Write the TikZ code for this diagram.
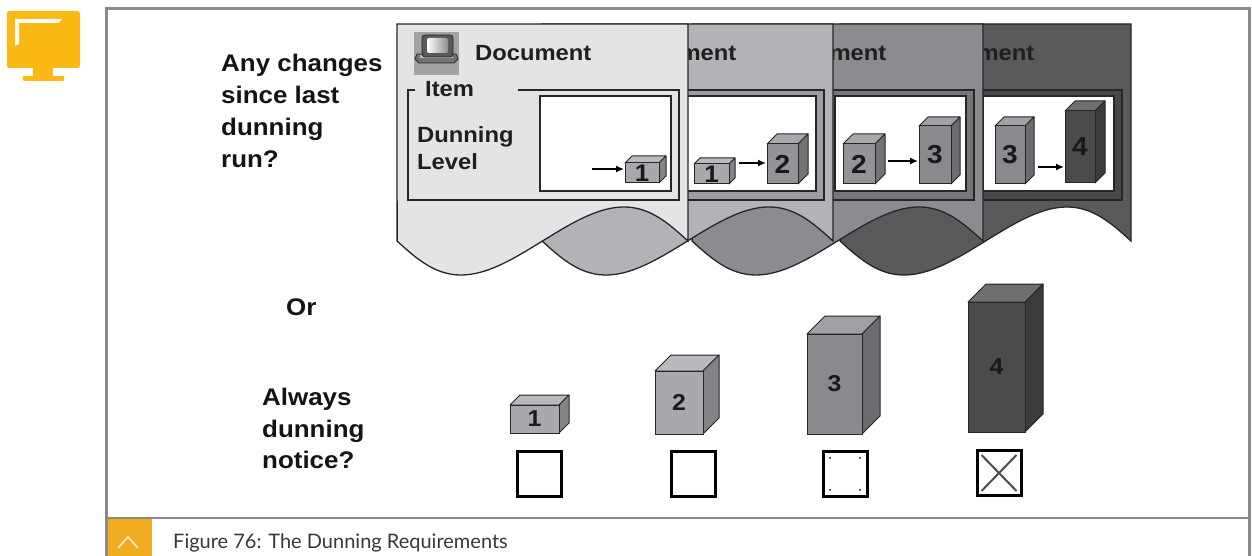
\documentclass[tikz,border=0pt]{standalone}
\usepackage{fontspec}
\setmainfont{Liberation Sans}
\newfontfamily\labelfont[FakeStretch=1.08]{Liberation Sans}
\newfontfamily\captionfont{Lato}
\usetikzlibrary{arrows.meta}

\definecolor{frameGray}{HTML}{8A8A8C}
\definecolor{sapOrange}{HTML}{FDB913}
\definecolor{capOrange}{HTML}{F0AB1E}
\definecolor{inkline}{HTML}{262626}
\definecolor{docA}{HTML}{E3E4E6}
\definecolor{docB}{HTML}{B2B3B7}
\definecolor{docC}{HTML}{8B8C90}
\definecolor{docD}{HTML}{5A5A5D}
\definecolor{lvlA}{HTML}{A8A9AD}
\definecolor{lvlB}{HTML}{939498}
\definecolor{lvlC}{HTML}{898A8E}
\definecolor{lvlD}{HTML}{4B4B4E}
\definecolor{icongray}{HTML}{A3A3A3}

% a dunning-level block: #1 name, #2 left x, #3 bottom y, #4 width, #5 height,
% #6 depth, #7 colour, #8 digit, #9 digit size
\newcommand\levelcube[9]{%
  \filldraw[cubeline, fill=#7!80!white] (#2,#3-#5) -- ++(#6,-#6) -- ++(#4,0) -- ++(-#6,#6) -- cycle;
  \filldraw[cubeline, fill=#7!78!black] (#2+#4,#3) -- ++(#6,-#6) -- ++(0,-#5) -- ++(-#6,#6) -- cycle;
  \node[cubeface, fill=#7, minimum width=#4pt, minimum height=#5pt, anchor=south west,
        font=\labelfont\bfseries\fontsize{#9}{#9}\selectfont] (#1) at (#2,#3) {#8};
}

% small document icon: #1 left x, #2 top y
\newcommand\docicon[2]{%
  \fill[icongray] (#1,#2) rectangle ++(45,43);
  \filldraw[draw=black!85, fill=black!55, line width=0.8pt]
    (#1+3,#2+22) -- (#1+42,#2+22) -- (#1+44,#2+27) -- (#1+40,#2+31) -- (#1+5,#2+31) -- (#1+1,#2+27) -- cycle;
  \fill[black!25] (#1+6,#2+23) rectangle (#1+39,#2+26);
  \filldraw[draw=black!85, fill=black!65, rounded corners=3pt, line width=0.8pt] (#1+8,#2+3) rectangle (#1+39,#2+25);
  \shade[left color=white, right color=black!45, rounded corners=2pt] (#1+13,#2+6) rectangle (#1+34,#2+21);
}

% one document sheet with wavy lower edge: #1 name, #2 left x, #3 colour, #4 group fill
\newcommand\dunningdoc[4]{%
  \filldraw[docline, fill=#3] (#2,24) -- (#2+291,24) -- (#2+291,241)
    -- plot[domain=1:0, samples=90, variable=\t] ({#2+291*(\t-0.03*sin(360*\t))},{241+34*sin(360*\t)})
    -- cycle;
  \node[doctext] (#1title) at (#2+78,61) {Document};
  \fill[#4] (#2+11,90) rectangle (#2+282,200);
  \draw[docline] (#2+18,90) -- (#2+11,90) -- (#2+11,200) -- (#2+282,200) -- (#2+282,90) -- (#2+121,90);
  \filldraw[docline, fill=white] (#2+143,96) rectangle (#2+274,191);
}

\begin{document}
\begin{tikzpicture}[x=1pt, y=-1pt,
  docline/.style={draw=inkline, line width=1.3pt},
  cubeline/.style={draw=inkline, line width=1pt, line join=round},
  cubeface/.style={draw=inkline, line width=1pt, inner sep=0pt, outer sep=0pt, text=black!90},
  qtext/.style={anchor=base west, inner sep=0pt, font=\labelfont\bfseries\fontsize{24}{28}\selectfont, text=black!92},
  doctext/.style={anchor=base west, inner sep=0pt, font=\labelfont\bfseries\fontsize{22}{26}\selectfont, text=black!88},
  levelarrow/.style={draw=black, line width=1.5pt, -{Latex[length=8pt,width=7pt]}, shorten >=1pt},
  checkbox/.style={draw=black, line width=3pt, fill=white, minimum width=44pt, minimum height=45pt, inner sep=0pt},
  xmark/.style={draw=black!70, line width=2pt},
  frameline/.style={draw=frameGray, line width=2.5pt}]

\useasboundingbox (0,0) rectangle (1252,556);
\fill[white] (0,0) rectangle (1252,556);

% monitor logo
\fill[sapOrange, rounded corners=2.5pt] (7,11) rectangle (80,68);
\fill[sapOrange] (33,66) rectangle (53,77);
\fill[sapOrange, rounded corners=1pt] (23,76) rectangle (64,81);
\fill[white] (15,19) -- (62,19) -- (59,23) -- (19,23) -- (19,44) -- (15,46) -- cycle;

% frame and caption
\draw[frameline] (106.5,556) -- (106.5,8.5) -- (1249.5,8.5) -- (1249.5,556);
\draw[frameline] (106.5,518) -- (1249.5,518);
\fill[capOrange] (107.7,519.3) rectangle (152,556);
\draw[white, opacity=0.75, line width=1.8pt] (118,548) -- (128,537) -- (138,548);
\node[anchor=base west, inner sep=0pt, text=black!78,
      font=\captionfont\fontsize{20}{24}\selectfont] (caption) at (173,548)
      {Figure 76: The Dunning Requirements};

% question labels
\node[qtext] (qa1) at (221,72) {Any changes};
\node[qtext] (qa2) at (221,104) {since last};
\node[qtext] (qa3) at (221,136) {dunning};
\node[qtext] (qa4) at (221,168) {run?};
\node[qtext] (qor) at (286,315) {Or};
\node[qtext] (qb1) at (262,405) {Always};
\node[qtext] (qb2) at (262,437) {dunning};
\node[qtext] (qb3) at (262,468) {notice?};

% stacked documents, back to front
\dunningdoc{D}{840}{docD}{docD!80!black}
\levelcube{cD3}{995}{184}{30}{58}{9}{lvlC}{3}{26}
\levelcube{cD4}{1065}{183}{30}{72}{10}{lvlD}{4}{26}
\coordinate (tD) at (1038,167);
\draw[levelarrow] (tD) -- (tD -| cD4.west);

\dunningdoc{C}{692}{docC}{docC!85!black}
\levelcube{cC2}{843}{184}{32}{40}{10}{lvlB}{2}{26}
\levelcube{cC3}{919}{184}{32}{58}{9}{lvlC}{3}{26}
\coordinate (tC) at (888,161);
\draw[levelarrow] (tC) -- (tC -| cC3.west);

\dunningdoc{B}{542}{docB}{docB!88!black}
\levelcube{cB1}{694}{184}{35}{20}{6}{lvlA}{1}{24}
\levelcube{cB2}{767}{184}{31}{40}{10}{lvlB}{2}{26}
\coordinate (tB) at (739,163);
\draw[levelarrow] (tB) -- (tB -| cB2.west);

\dunningdoc{A}{397}{docA}{docA}
\docicon{414}{32}
\node[doctext] (Aitem) at (425,97) {Item};
\node[doctext] (Adun) at (417,143) {Dunning};
\node[doctext] (Alev) at (417,170) {Level};
\levelcube{cA1}{625}{183}{34}{20}{7}{lvlA}{1}{24}
\coordinate (tA) at (592,169);
\draw[levelarrow] (tA) -- (tA -| cA1.west);

% dunning levels with their check boxes
\levelcube{lv1}{510}{433}{49}{28}{10}{lvlA}{1}{23}
\levelcube{lv2}{655}{434}{48}{63}{16}{lvlA}{2}{23}
\levelcube{lv3}{807}{434}{55}{100}{18}{lvlC}{3}{23}
\levelcube{lv4}{968}{432}{57}{130}{18}{lvlD}{4}{23}

\node[checkbox] (cb1) at (539,474) {};
\node[checkbox] (cb2) at (693,474) {};
\node[checkbox] (cb3) at (845,474) {};
\node[checkbox] (cb4) at (999,473) {};

\foreach \dx/\dy in {15/16, -15/16, 15/-16, -15/-16}
  \fill[black!80] ([shift={(\dx,\dy)}]cb3.center) circle (1.1pt);
\draw[xmark] ([shift={(6,6)}]cb4.north west) -- ([shift={(-6,-6)}]cb4.south east);
\draw[xmark] ([shift={(-6,6)}]cb4.north east) -- ([shift={(6,-6)}]cb4.south west);
\end{tikzpicture}
\end{document}
